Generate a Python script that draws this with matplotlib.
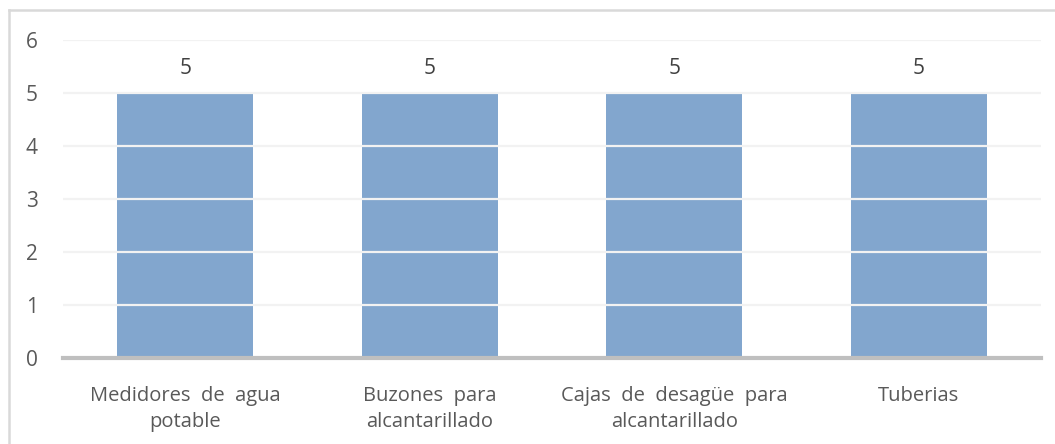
import matplotlib.pyplot as plt
from matplotlib.lines import Line2D

categorias = ['Medidores  de  agua\npotable', 'Buzones  para\nalcantarillado',
              'Cajas  de  desagüe  para\nalcantarillado', 'Tuberias']
cantidades = [5, 5, 5, 5]
yticks = [0, 1, 2, 3, 4, 5, 6]

plt.rcParams['font.family'] = ['Open Sans', 'DejaVu Sans']

fig = plt.figure(figsize=(10.55, 4.44), dpi=100)
ax = fig.add_axes([63 / 1055, 86 / 444, (1041 - 63) / 1055, 318 / 444])

x = list(range(len(categorias)))
bars = ax.bar(x, cantidades, width=0.556, color='#82A6CE', zorder=1)
ax.bar_label(bars, labels=[str(v) for v in cantidades], padding=10,
             fontsize=15, color='#404040')

ax.set_xlim(-0.5, len(categorias) - 0.5)
ax.set_ylim(0, 6)
ax.set_yticks(yticks)
ax.set_xticks(x)
ax.set_xticklabels(categorias, fontsize=14.5, color='#595959', linespacing=1.4)
ax.tick_params(axis='y', length=0, pad=18, labelsize=15, labelcolor='#595959')
ax.tick_params(axis='x', length=0, pad=20)

for y in yticks[1:]:
    ax.axhline(y, color='#F2F2F2', linewidth=1.6, zorder=2)

for s in ['top', 'right', 'left']:
    ax.spines[s].set_visible(False)
ax.spines['bottom'].set_color('#BFBFBF')
ax.spines['bottom'].set_linewidth(3)
ax.spines['bottom'].set_zorder(3)

# marco del grafico
fig.add_artist(Line2D([9 / 1055, 9 / 1055], [0, 1 - 10 / 444],
                      transform=fig.transFigure, color='#D9D9D9', linewidth=1.8))
fig.add_artist(Line2D([9 / 1055, 1], [1 - 10 / 444, 1 - 10 / 444],
                      transform=fig.transFigure, color='#D9D9D9', linewidth=1.8))

fig.savefig('out.png', dpi=100)
